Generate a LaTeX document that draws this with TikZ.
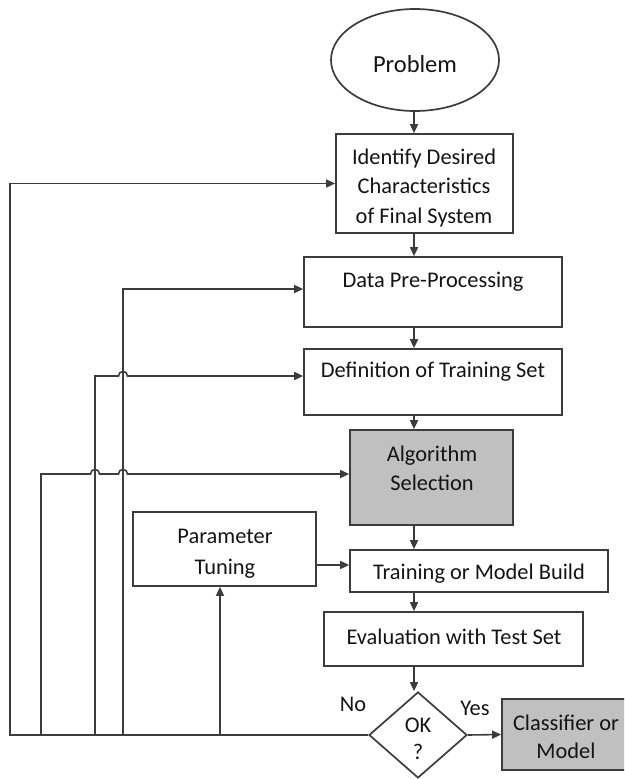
\documentclass[tikz,border=0pt]{standalone}
\usepackage{fontspec}
\setmainfont{Carlito}
\usetikzlibrary{arrows.meta,shapes.geometric}
\definecolor{linec}{HTML}{3C3C3C}
\definecolor{textc}{HTML}{141414}
\definecolor{fillc}{HTML}{C0C0C0}
\begin{document}
\begin{tikzpicture}[x=1pt,y=-1pt,
  box/.style={draw=linec, line width=1.7pt, rectangle, inner sep=0pt},
  txt/.style={font=\fontsize{22.4}{29.5}\selectfont, text=textc, align=center, inner sep=0pt},
  arr/.style={draw=linec, line width=1.6pt, -{Triangle[length=9pt,width=8pt]}},
  ln/.style={draw=linec, line width=1.6pt}]
\useasboundingbox (0,0) rectangle (624,779);
\clip (0,0) rectangle (624,779);

% shapes
\node[box, ellipse, minimum width=168pt, minimum height=102pt] (prob) at (415,60) {};
\node[box, minimum width=177pt, minimum height=99pt] (ident) at (424.5,183.5) {};
\node[box, minimum width=258pt, minimum height=70pt] (data) at (433,292) {};
\node[box, minimum width=258pt, minimum height=66pt] (def) at (433,382) {};
\node[box, fill=fillc, minimum width=163pt, minimum height=95pt] (alg) at (431.5,477.5) {};
\node[box, minimum width=183pt, minimum height=74pt] (param) at (224.5,549) {};
\node[box, minimum width=258pt, minimum height=42pt] (train) at (479,571) {};
\node[box, minimum width=259pt, minimum height=54pt] (eval) at (453.5,639) {};
\node[box, diamond, minimum width=98pt, minimum height=86pt] (dia) at (418,735) {};
\node[box, fill=fillc, minimum width=130pt, minimum height=71pt] (cls) at (567,734.5) {};

% texts
\node[txt, font=\fontsize{24.5}{28}\selectfont] (probT) at (415,64) {Problem};
\node[txt] (identT) at (424,188) {Identify Desired\\Characteristics\\of Final System};
\node[txt] (dataT) at (433,282) {Data Pre-Processing};
\node[txt] (defT) at (433,372) {Definition of Training Set};
\node[txt, font=\fontsize{22.4}{29}\selectfont] (algT) at (432,468.5) {Algorithm\\Selection};
\node[txt, font=\fontsize{22.4}{31}\selectfont] (paramT) at (225,553.5) {Parameter\\Tuning};
\node[txt] (trainT) at (479,574) {Training or Model Build};
\node[txt] (evalT) at (454,637) {Evaluation with Test Set};
\node[txt, font=\fontsize{22.4}{27}\selectfont] (diaT) at (418,738.5) {OK\\?};
\node[txt, font=\fontsize{22.4}{28}\selectfont] (clsT) at (566,737) {Classifier or\\Model};
\node[txt] (noT) at (353,704) {No};
\node[txt] (yesT) at (475,708) {Yes};

% main column
\coordinate (col) at (414,0);
\draw[arr] (col |- prob.south) -- (col |- ident.north);
\draw[arr] (col |- ident.south) -- (col |- data.north);
\draw[arr] (col |- data.south) -- (col |- def.north);
\draw[arr] (col |- def.south) -- (col |- alg.north);
\draw[arr] (col |- alg.south) -- (col |- train.north);
\draw[arr] (col |- train.south) -- (col |- eval.north);
\draw[arr] (col |- eval.south) -- (col |- dia.north);
\draw[arr] ([yshift=-16pt]param.east) -- ([yshift=6pt]train.west);
\draw[arr] (dia.east) -- (cls.west);

% feedback
\coordinate (t1) at (10,735);
\coordinate (j41) at (41,735);
\coordinate (j95) at (95,735);
\coordinate (j123) at (123,735);
\coordinate (j220) at (220,735);
\draw[arr] (dia.west) -- (t1) |- (ident.west);
\draw[arr] (j123) |- ([yshift=3pt]data.west);
\draw[arr] (j95) -- (95,376) -- (118.5,376) .. controls (118.5,370) and (127.5,370) .. (127.5,376) -- ([yshift=6pt]def.west);
\draw[arr] (j41) -- (41,474) -- (90.5,474) .. controls (90.5,468) and (99.5,468) .. (99.5,474) -- (118.5,474) .. controls (118.5,468) and (127.5,468) .. (127.5,474) -- ([yshift=3.5pt]alg.west);
\draw[arr] (j220) -- (j220 |- param.south);
\end{tikzpicture}
\end{document}
